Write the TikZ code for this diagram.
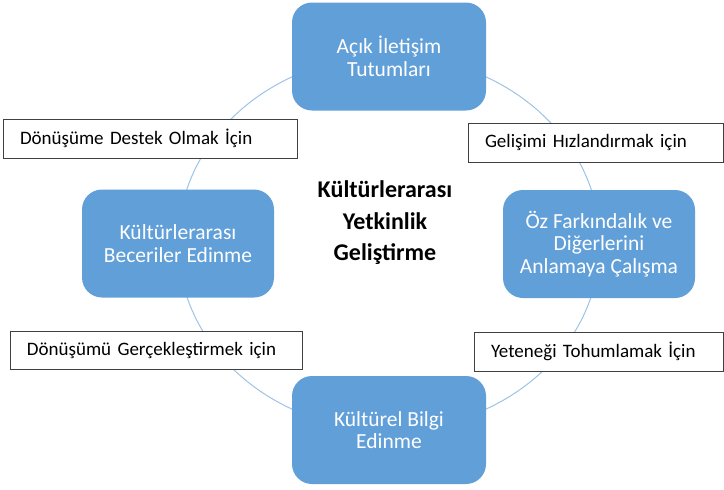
\documentclass[tikz,border=0pt]{standalone}
\usepackage{fontspec}
\setmainfont{Carlito}
\definecolor{boxblue}{HTML}{619FD8}
\definecolor{ringblue}{HTML}{9DC3E6}
\definecolor{labelgray}{HTML}{404040}
\begin{document}
\begin{tikzpicture}[x=1pt,y=-1pt,
  stagebox/.style={rectangle, rounded corners=20pt, fill=boxblue, draw=none,
    text=white, align=center, font=\fontsize{21.5}{22.5}\selectfont,
    minimum width=194pt, minimum height=108pt, inner sep=0pt},
  labelbox/.style={rectangle, draw=labelgray, line width=0.9pt, fill=white,
    align=left, font=\fontsize{19}{22}\selectfont, inner xsep=17pt, inner ysep=0pt,
    minimum height=39pt},
  ring/.style={draw=ringblue, line width=1pt}
]
\useasboundingbox (0,0) rectangle (724,490);
\draw[ring] (389,243) ellipse [x radius=211pt, y radius=187pt];

\node[stagebox] (top) at (389,56.5) {Açık İletişim\\Tutumları};
\node[stagebox, minimum width=192pt] (right) at (599,244) {Öz Farkındalık ve\\Diğerlerini\\Anlamaya Çalışma};
\node[stagebox] (bottom) at (389,430) {Kültürel Bilgi\\Edinme};
\node[stagebox, minimum width=192pt] (left) at (178,243.5) {Kültürlerarası\\Beceriler Edinme};

\node[font=\bfseries\fontsize{24}{31.5}\selectfont, align=center] (center) at (385,223) {Kültürlerarası\\Yetkinlik\\Geliştirme};

\node[labelbox, text width=260pt] (l1) at (150,138.5) {Dönüşüme Destek Olmak İçin};
\node[labelbox, text width=221pt] (l2) at (595.5,142.5) {Gelişimi Hızlandırmak için};
\node[labelbox, text width=258pt, minimum height=38pt] (l3) at (156,350) {Dönüşümü Gerçekleştirmek için};
\node[labelbox, text width=215pt] (l4) at (598.5,351.5) {Yeteneği Tohumlamak İçin};
\end{tikzpicture}
\end{document}
